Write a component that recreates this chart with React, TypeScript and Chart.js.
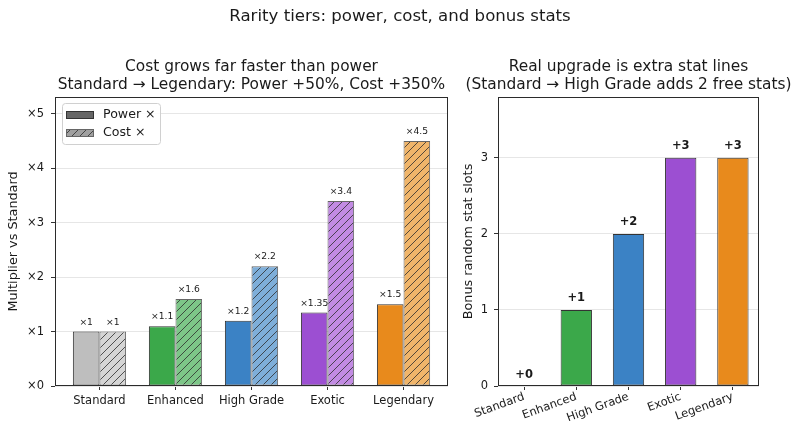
import React, { useEffect, useRef } from "react";
import { Chart, registerables } from "chart.js";

Chart.register(...registerables);

const FONT = "'DejaVu Sans', 'Liberation Sans', sans-serif";

const tiers = ["Standard", "Enhanced", "High Grade", "Exotic", "Legendary"];
const powerMult = [1, 1.1, 1.2, 1.35, 1.5];
const costMult = [1, 1.6, 2.2, 3.4, 4.5];
const bonusSlots = [0, 1, 2, 3, 3];
const multTicks = [0, 1, 2, 3, 4, 5];
const slotTicks = [0, 1, 2, 3];
const tierColors = ["#bebebe", "#3ba84a", "#3b82c5", "#9c4fd2", "#e88a1c"];
const tierColorsLight = ["#d5d5d5", "#7dc688", "#7eaed9", "#c28be3", "#f0b56a"];

const suptitle = "Rarity tiers: power, cost, and bonus stats";
const leftTitle = ["Cost grows far faster than power", "Standard \u2192 Legendary: Power +50%, Cost +350%"];
const rightTitle = ["Real upgrade is extra stat lines", "(Standard \u2192 High Grade adds 2 free stats)"];
const leftYLabel = "Multiplier vs Standard";
const rightYLabel = "Bonus random stat slots";
const legendLabels = ["Power \u00d7", "Cost \u00d7"];

function hatch(color: string, line = "rgba(45,45,45,0.8)") {
  const s = 8;
  const c = document.createElement("canvas");
  c.width = s;
  c.height = s;
  const g = c.getContext("2d")!;
  g.fillStyle = color;
  g.fillRect(0, 0, s, s);
  g.strokeStyle = line;
  g.lineWidth = 1;
  g.beginPath();
  g.moveTo(0, s);
  g.lineTo(s, 0);
  g.moveTo(-1, 1);
  g.lineTo(1, -1);
  g.moveTo(s - 1, s + 1);
  g.lineTo(s + 1, s - 1);
  g.stroke();
  return g.createPattern(c, "repeat")!;
}

const framePlugin = {
  id: "frame",
  afterDraw(chart: any) {
    const { ctx, chartArea: a } = chart;
    ctx.save();
    ctx.strokeStyle = "#2b2b2b";
    ctx.lineWidth = 1;
    ctx.strokeRect(Math.round(a.left) + 0.5, Math.round(a.top) + 0.5, Math.round(a.right - a.left) - 1, Math.round(a.bottom - a.top) - 1);
    ctx.restore();
  },
};

function makeLabelPlugin(fmts: ((v: number) => string)[], font: string, gap: number) {
  return {
    id: "valueLabels",
    afterDatasetsDraw(chart: any) {
      const ctx = chart.ctx;
      ctx.save();
      ctx.font = font;
      ctx.fillStyle = "#1a1a1a";
      ctx.textAlign = "center";
      ctx.textBaseline = "alphabetic";
      chart.data.datasets.forEach((ds: any, di: number) => {
        const meta = chart.getDatasetMeta(di);
        meta.data.forEach((el: any, i: number) => {
          const raw = ds.data[i];
          const v = typeof raw === "number" ? raw : raw.y;
          ctx.fillText(fmts[di](v), el.x, el.y - gap);
        });
      });
      ctx.restore();
    },
  };
}

function titlesPlugin(lines: string[], withSup: boolean) {
  return {
    id: "titles",
    afterDraw(chart: any) {
      const { ctx, chartArea: a } = chart;
      ctx.save();
      ctx.fillStyle = "#1a1a1a";
      ctx.textAlign = "center";
      ctx.textBaseline = "middle";
      if (withSup) {
        ctx.font = `16.6px ${FONT}`;
        ctx.fillText(suptitle, 400, 17);
      }
      ctx.font = `15.4px ${FONT}`;
      const cx = (a.left + a.right) / 2;
      ctx.fillText(lines[0], cx, 67);
      ctx.fillText(lines[1], cx, 85);
      ctx.restore();
    },
  };
}

const legendPlugin = {
  id: "customLegend",
  afterDraw(chart: any) {
    const ctx = chart.ctx;
    ctx.save();
    ctx.beginPath();
    (ctx as any).roundRect(62.5, 103.5, 98, 41, 3);
    ctx.fillStyle = "rgba(255,255,255,0.85)";
    ctx.fill();
    ctx.strokeStyle = "#d0d0d0";
    ctx.lineWidth = 1;
    ctx.stroke();
    ctx.fillStyle = "#666666";
    ctx.fillRect(66, 111, 28, 8);
    ctx.strokeStyle = "#333333";
    ctx.strokeRect(66.5, 111.5, 27, 7);
    ctx.fillStyle = hatch("#a0a0a0");
    ctx.fillRect(66, 129, 28, 8);
    ctx.strokeStyle = "#666666";
    ctx.strokeRect(66.5, 129.5, 27, 7);
    ctx.fillStyle = "#1a1a1a";
    ctx.font = `12.6px ${FONT}`;
    ctx.textAlign = "left";
    ctx.textBaseline = "middle";
    ctx.fillText(legendLabels[0], 103, 115);
    ctx.fillText(legendLabels[1], 103, 133);
    ctx.restore();
  },
};

function leftConfig(): any {
  return {
    type: "bar",
    data: {
      datasets: [
        {
          label: legendLabels[0],
          data: powerMult.map((v, i) => ({ x: i, y: v })),
          backgroundColor: tierColors,
          borderColor: "#333333",
          borderWidth: 1,
          borderSkipped: false,
          categoryPercentage: 0.7,
          barPercentage: 1,
        },
        {
          label: legendLabels[1],
          data: costMult.map((v, i) => ({ x: i, y: v })),
          backgroundColor: tierColorsLight.map((c) => hatch(c)),
          borderColor: "#666666",
          borderWidth: 1,
          borderSkipped: false,
          categoryPercentage: 0.7,
          barPercentage: 1,
        },
      ],
    },
    options: {
      responsive: false,
      animation: false,
      events: [],
      layout: { padding: { left: 0, right: 352, top: 97, bottom: 0 } },
      plugins: { legend: { display: false }, tooltip: { enabled: false } },
      scales: {
        x: {
          type: "linear",
          min: -0.585,
          max: 4.585,
          offset: false,
          afterBuildTicks: (s: any) => {
            s.ticks = tiers.map((_, i) => ({ value: i }));
          },
          afterFit: (s: any) => {
            s.height = 52;
          },
          ticks: {
            callback: (_v: any, i: number) => tiers[i],
            autoSkip: false,
            maxRotation: 0,
            font: { size: 11.5, family: FONT },
            color: "#1a1a1a",
            padding: 4,
          },
          grid: { drawOnChartArea: false, offset: false, drawTicks: true, tickLength: 4, tickColor: "#333333" },
          border: { display: false },
        },
        y: {
          type: "linear",
          min: 0,
          max: 5.31,
          afterBuildTicks: (s: any) => {
            s.ticks = multTicks.map((v) => ({ value: v }));
          },
          afterFit: (s: any) => {
            s.width = 55;
          },
          ticks: {
            callback: (v: any) => "\u00d7" + v,
            font: { size: 11.5, family: FONT },
            color: "#1a1a1a",
            padding: 7,
          },
          grid: { color: "#e6e6e6", lineWidth: 1, tickColor: "#333333", tickLength: 4 },
          border: { display: false },
          title: {
            display: true,
            text: leftYLabel,
            font: { size: 12.8, family: FONT },
            color: "#1a1a1a",
            padding: { top: 6, bottom: 0 },
          },
        },
      },
    },
    plugins: [
      makeLabelPlugin([(v) => "\u00d7" + v, (v) => "\u00d7" + v], `9.2px ${FONT}`, 7),
      framePlugin,
      legendPlugin,
      titlesPlugin(leftTitle, true),
    ],
  };
}

function rightConfig(): any {
  return {
    type: "bar",
    data: {
      labels: tiers,
      datasets: [
        {
          label: rightYLabel,
          data: bonusSlots,
          backgroundColor: tierColors.map((c, i) => (i === 0 ? "rgba(0,0,0,0)" : c)),
          borderColor: "#333333",
          borderWidth: 1,
          borderSkipped: false,
          categoryPercentage: 1,
          barPercentage: 0.6,
        },
      ],
    },
    options: {
      responsive: false,
      animation: false,
      events: [],
      layout: { padding: { left: 460, right: 41, top: 97, bottom: 0 } },
      plugins: { legend: { display: false }, tooltip: { enabled: false } },
      scales: {
        x: {
          type: "category",
          offset: true,
          afterFit: (s: any) => {
            s.height = 52;
          },
          ticks: {
            autoSkip: false,
            minRotation: 20,
            maxRotation: 20,
            font: { size: 11.5, family: FONT },
            color: "#1a1a1a",
            padding: 0,
          },
          grid: { drawOnChartArea: false, offset: false, drawTicks: true, tickLength: 4, tickColor: "#333333" },
          border: { display: false },
        },
        y: {
          type: "linear",
          min: 0,
          max: 3.8,
          afterBuildTicks: (s: any) => {
            s.ticks = slotTicks.map((v) => ({ value: v }));
          },
          afterFit: (s: any) => {
            s.width = 38;
          },
          ticks: {
            callback: (v: any) => String(v),
            font: { size: 11.5, family: FONT },
            color: "#1a1a1a",
            padding: 6,
          },
          grid: { color: "#e6e6e6", lineWidth: 1, tickColor: "#333333", tickLength: 4 },
          border: { display: false },
          title: {
            display: true,
            text: rightYLabel,
            font: { size: 12.8, family: FONT },
            color: "#1a1a1a",
            padding: { top: 0.5, bottom: 0 },
          },
        },
      },
    },
    plugins: [
      makeLabelPlugin([(v) => "+" + v], `bold 11.5px ${FONT}`, 8.5),
      framePlugin,
      titlesPlugin(rightTitle, false),
    ],
  };
}

export default function App() {
  const leftRef = useRef<HTMLCanvasElement>(null);
  const rightRef = useRef<HTMLCanvasElement>(null);
  useEffect(() => {
    document.body.style.margin = "0";
    Chart.defaults.font.family = FONT;
    const left = new Chart(leftRef.current!, leftConfig());
    const right = new Chart(rightRef.current!, rightConfig());
    return () => {
      left.destroy();
      right.destroy();
    };
  }, []);
  return (
    <div style={{ position: "relative", width: 800, height: 438, background: "#ffffff" }}>
      <canvas ref={leftRef} width={800} height={438} style={{ position: "absolute", left: 0, top: 0 }} />
      <canvas ref={rightRef} width={800} height={438} style={{ position: "absolute", left: 0, top: 0 }} />
    </div>
  );
}
